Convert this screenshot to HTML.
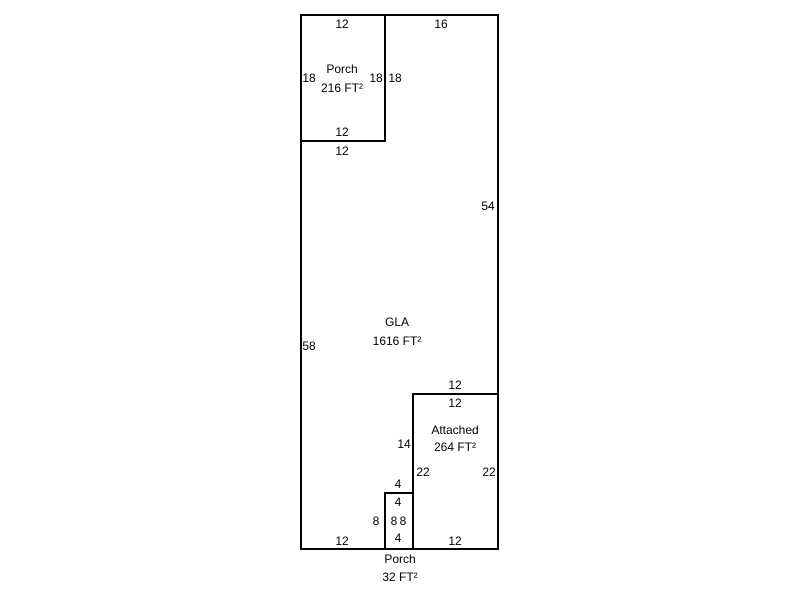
<!DOCTYPE html>
<html><head><style>
body{margin:0;background:#fff;}
svg text{font-family:"Liberation Sans",Arial,sans-serif;font-size:12px;fill:#000;}
</style></head><body>
<svg width="800" height="600" xmlns="http://www.w3.org/2000/svg">
<g fill="none" stroke="#000" stroke-width="2">
<rect x="301" y="15" width="197" height="534"/>
<rect x="301" y="15" width="84" height="126"/>
<rect x="413" y="394" width="85" height="155"/>
<rect x="385" y="493" width="28" height="56"/>
</g>
<g text-anchor="middle">
<text x="342" y="28">12</text>
<text x="441" y="28">16</text>
<text x="342" y="73">Porch</text>
<text x="342" y="92">216 FT²</text>
<text x="309" y="82">18</text>
<text x="376" y="82">18</text>
<text x="395" y="82">18</text>
<text x="342" y="136">12</text>
<text x="342" y="155">12</text>
<text x="488" y="210">54</text>
<text x="397" y="326">GLA</text>
<text x="397" y="345">1616 FT²</text>
<text x="309" y="350">58</text>
<text x="455" y="389">12</text>
<text x="455" y="407">12</text>
<text x="455" y="434">Attached</text>
<text x="455" y="451">264 FT²</text>
<text x="404" y="448">14</text>
<text x="423" y="476">22</text>
<text x="489" y="476">22</text>
<text x="398" y="488">4</text>
<text x="398" y="506">4</text>
<text x="376" y="525">8</text>
<text x="394" y="525">8</text>
<text x="403" y="525">8</text>
<text x="398" y="542">4</text>
<text x="342" y="545">12</text>
<text x="455" y="545">12</text>
<text x="400" y="563">Porch</text>
<text x="400" y="581">32 FT²</text>
</g>
</svg>
</body></html>
